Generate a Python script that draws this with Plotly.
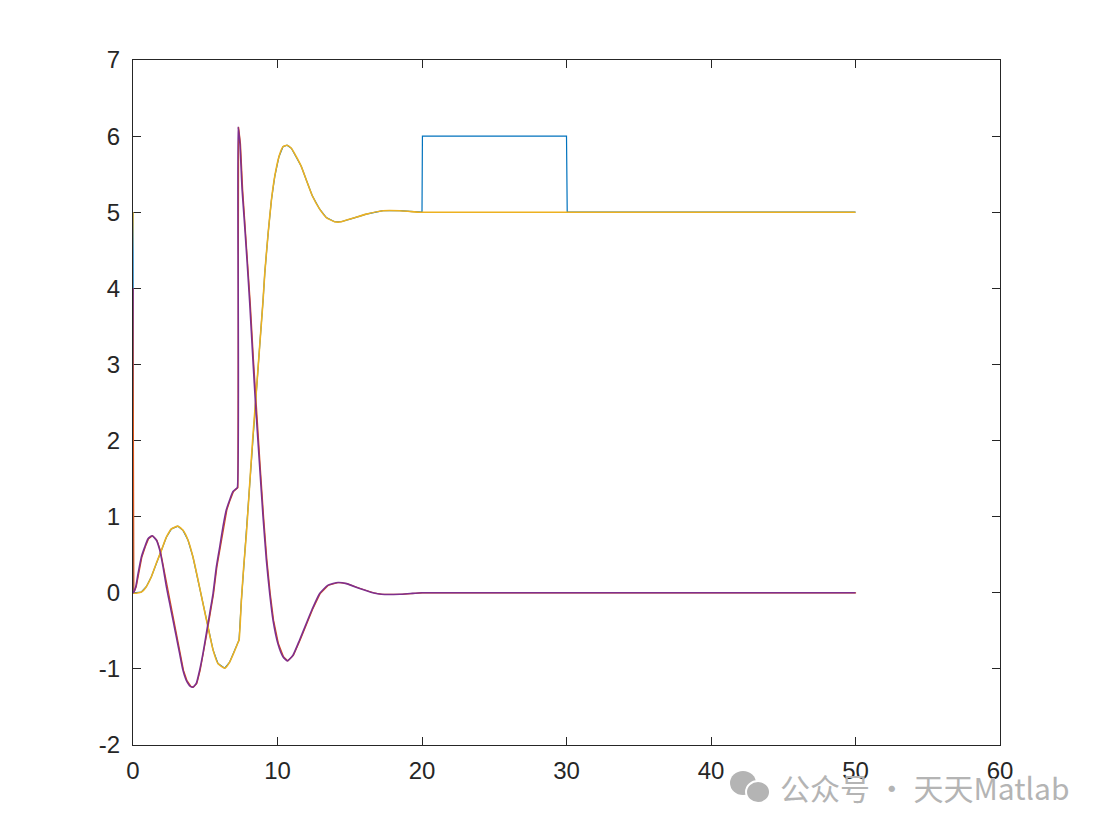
import plotly.graph_objects as go

# ---- data ----
t_yellow = [0, 0.03, 0.58, 0.92, 1.27, 1.62, 1.97, 2.31, 2.66, 3.11, 3.46, 3.81, 4.15, 4.5, 4.84,
            5.19, 5.54, 5.88, 6.35, 6.69, 7.15, 7.25, 7.34, 7.5, 7.66, 7.85, 8.08, 8.31, 8.49, 8.75,
            9.0, 9.12, 9.35, 9.58, 9.81, 10.1, 10.38, 10.66, 10.96, 11.3, 11.65, 12.0, 12.4,
            12.92, 13.38, 13.95, 14.2, 14.4, 15.2, 16.15, 17.3, 18.46, 19.15, 19.84, 20.0, 50.0]
v_yellow = [5.0, 0.0, 0.01, 0.08, 0.21, 0.39, 0.56, 0.73, 0.84, 0.875, 0.82, 0.69, 0.47, 0.17, -0.14,
            -0.45, -0.75, -0.93, -0.99, -0.91, -0.71, -0.66, -0.62, -0.10, 0.34, 0.78, 1.44, 2.09, 2.53, 3.2,
            3.84, 4.20, 4.72, 5.16, 5.47, 5.73, 5.86, 5.88, 5.84, 5.73, 5.60, 5.42, 5.22,
            5.04, 4.93, 4.875, 4.87, 4.875, 4.92, 4.975, 5.02, 5.02, 5.01, 5.0, 5.0, 5.0]

# blue: same as yellow until t=20, then a pulse to 6 between t=20 and t=30
t_blue_pulse = [20.03, 30.0, 30.05, 50.0]
v_blue_pulse = [6.0, 6.0, 5.0, 5.0]

t_purple = [0, 0.02, 0.19, 0.35, 0.58, 0.81, 1.04, 1.32, 1.62, 1.85, 2.08, 2.31, 2.54, 2.77, 3.0,
            3.23, 3.46, 3.69, 3.97, 4.15, 4.38, 4.61, 4.84, 5.08, 5.31, 5.54, 5.77, 6.0, 6.23, 6.46,
            6.69, 6.92, 7.15, 7.22, 7.27, 7.4, 7.55, 7.7, 7.89, 8.08, 8.3, 8.49, 8.77, 9.0, 9.23,
            9.46, 9.69, 10.03, 10.38, 10.68, 11.07, 11.53, 12.0, 12.39, 12.92, 13.5, 14.19, 14.77,
            15.69, 16.6, 17.2, 18.46, 19.2, 20.0, 50.0]
v_purple = [4.0, 0.0, 0.08, 0.25, 0.47, 0.60, 0.71, 0.75, 0.69, 0.56, 0.34, 0.08, -0.14, -0.36, -0.58,
            -0.80, -1.02, -1.15, -1.23, -1.24, -1.19, -1.02, -0.80, -0.53, -0.27, -0.01, 0.34, 0.60, 0.87, 1.09,
            1.22, 1.33, 1.37, 1.38, 6.12, 5.9, 5.3, 4.9, 4.37, 3.80, 3.06, 2.45, 1.65, 1.0, 0.43,
            -0.01, -0.36, -0.67, -0.84, -0.895, -0.82, -0.62, -0.40, -0.22, -0.01, 0.10, 0.135, 0.12,
            0.056, 0.0, -0.02, -0.02, -0.01, 0.0, 0.0]

x_ticks = [0, 10, 20, 30, 40, 50, 60]
y_ticks = [-2, -1, 0, 1, 2, 3, 4, 5, 6, 7]

# ---- derived series ----
blue_t = [t for t in t_yellow if t <= 20.0] + t_blue_pulse
blue_v = [v for t, v in zip(t_yellow, v_yellow) if t <= 20.0] + v_blue_pulse
red_t = [t + 0.04 if t > 0 else t for t in t_purple]
red_v = v_purple

C_BLUE, C_RED, C_YEL, C_PUR = "#0072BD", "#D95319", "#EDB120", "#7E2F8E"
AX = "#262626"

fig = go.Figure()
fig.add_trace(go.Scatter(x=blue_t, y=blue_v, mode="lines", line=dict(color=C_BLUE, width=1.2),
                         cliponaxis=False))
fig.add_trace(go.Scatter(x=red_t, y=red_v, mode="lines", line=dict(color=C_RED, width=1.2),
                         cliponaxis=False))
fig.add_trace(go.Scatter(x=t_yellow, y=v_yellow, mode="lines", cliponaxis=False,
                         line=dict(color=C_YEL, width=1.6, shape="spline", smoothing=0.5)))
fig.add_trace(go.Scatter(x=t_purple, y=v_purple, mode="lines", cliponaxis=False,
                         line=dict(color=C_PUR, width=1.6, shape="spline", smoothing=0.5)))

axis_common = dict(showgrid=False, zeroline=False, showline=True, linecolor=AX, linewidth=1,
                   mirror="ticks", ticks="inside", ticklen=8, tickcolor=AX, tickwidth=1,
                   automargin=False, layer="below traces",
                   tickfont=dict(family="Liberation Sans, Arial", size=24, color=AX))

fig.update_layout(
    width=1087, height=817,
    margin=dict(l=125, r=95, t=52, b=80),
    paper_bgcolor="white", plot_bgcolor="white",
    showlegend=False,
    xaxis=dict(range=[0, 60], tickvals=x_ticks, ticktext=[str(v) for v in x_ticks],
               ticklabelstandoff=4, **axis_common),
    yaxis=dict(range=[-2, 7], tickvals=y_ticks, ticktext=[str(v) for v in y_ticks],
               ticklabelstandoff=7, **axis_common),
)

# watermark (WeChat-style icon + text)
fig.add_shape(type="circle", xref="paper", yref="paper",
              xsizemode="pixel", ysizemode="pixel", xanchor=0.7036, yanchor=-0.0555,
              x0=-13, x1=13, y0=-12, y1=12,
              fillcolor="#b4b4b4", line=dict(width=0))
fig.add_shape(type="circle", xref="paper", yref="paper",
              xsizemode="pixel", ysizemode="pixel", xanchor=0.7036, yanchor=-0.0555,
              x0=3, x1=27, y0=-20, y1=2,
              fillcolor="#b4b4b4", line=dict(color="white", width=2))
fig.add_annotation(xref="paper", yref="paper", x=0.7439, y=-0.0613, xanchor="left", yanchor="middle",
                   showarrow=False, text="公众号 · 天天Matlab",
                   font=dict(family="Noto Sans CJK SC", size=30, color="#b4b4b4"))

fig.write_html("out.html")
